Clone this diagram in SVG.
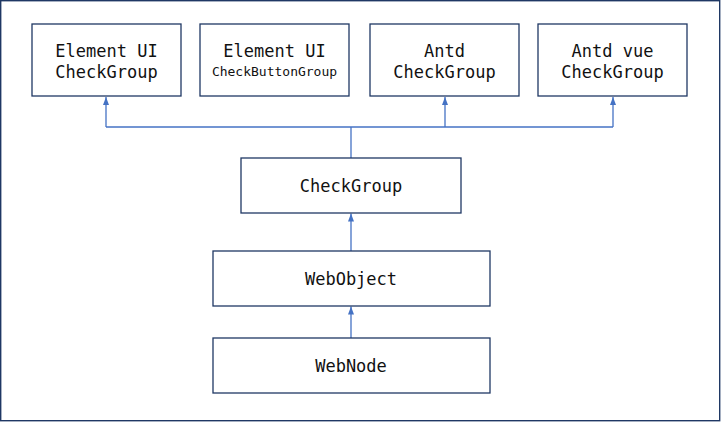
<svg xmlns="http://www.w3.org/2000/svg" width="721" height="422" viewBox="0 0 721 422">
<style>
.box{fill:#fff;stroke:#1f3864;stroke-width:1.3}
.t{font-family:"DejaVu Sans Mono","Liberation Mono",monospace;font-size:17px;fill:#111;text-anchor:middle}
.s{font-size:13px}
.c{fill:none;stroke:#4472c4;stroke-width:1.3}
</style>
<defs>
<marker id="ah" viewBox="0 0 6 8" refX="6" refY="3" markerWidth="6" markerHeight="8" markerUnits="userSpaceOnUse" orient="auto">
<path d="M0,0 L6,3 L0,6 Z" fill="#4472c4" transform="translate(0,0)"/>
</marker>
<marker id="a" viewBox="0 0 8 6" refX="8" refY="3" markerWidth="8" markerHeight="6" markerUnits="userSpaceOnUse" orient="auto">
<path d="M0,0 L8,3 L0,6 Z" fill="#4472c4"/>
</marker>
</defs>
<rect x="0.7" y="0.7" width="719" height="420" fill="#fff" stroke="#1f3864" stroke-width="1.4"/>
<g id="connectors">
<polyline class="c" points="351,158 351,127"/>
<polyline class="c" points="106,127 613,127"/>
<line class="c" x1="106" y1="127" x2="106" y2="97" marker-end="url(#a)"/>
<line class="c" x1="445" y1="127" x2="445" y2="97" marker-end="url(#a)"/>
<line class="c" x1="613" y1="127" x2="613" y2="97" marker-end="url(#a)"/>
<line class="c" x1="351" y1="251" x2="351" y2="213.5" marker-end="url(#a)"/>
<line class="c" x1="351" y1="338" x2="351" y2="306.5" marker-end="url(#a)"/>
</g>
<g id="n1"><rect class="box" x="32" y="24" width="149" height="72"/><text class="t" x="106.5" y="56.5">Element UI</text><text class="t" x="106.5" y="78">CheckGroup</text></g>
<g id="n2"><rect class="box" x="200" y="24" width="149" height="72"/><text class="t" x="274.5" y="56.5">Element UI</text><text class="t s" x="274.5" y="76">CheckButtonGroup</text></g>
<g id="n3"><rect class="box" x="370" y="24" width="149" height="72"/><text class="t" x="444.5" y="56.5">Antd</text><text class="t" x="444.5" y="78">CheckGroup</text></g>
<g id="n4"><rect class="box" x="538" y="24" width="149" height="72"/><text class="t" x="612.5" y="56.5">Antd vue</text><text class="t" x="612.5" y="78">CheckGroup</text></g>
<g id="n5"><rect class="box" x="241" y="158" width="220" height="55"/><text class="t" x="351" y="192">CheckGroup</text></g>
<g id="n6"><rect class="box" x="213" y="251" width="277" height="55"/><text class="t" x="351" y="284.5">WebObject</text></g>
<g id="n7"><rect class="box" x="213" y="338" width="277" height="55"/><text class="t" x="351" y="372">WebNode</text></g>
</svg>
